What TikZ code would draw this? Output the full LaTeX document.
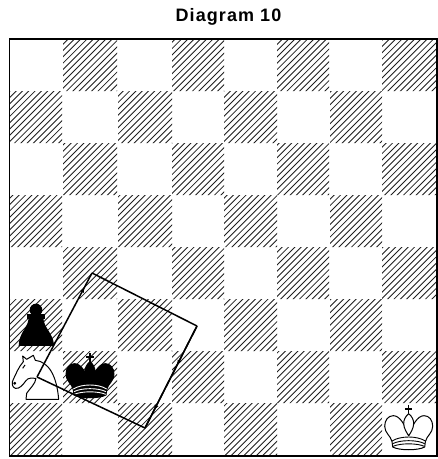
\documentclass[tikz,border=0pt]{standalone}
\usepackage{fontspec}
\setmainfont{Liberation Sans}
\usetikzlibrary{decorations.markings}
\tikzset{
  hatchline/.style={line width=0.85pt,draw=black!88},
  piece/.style={line width=1pt,line join=round,draw=black},
  bandline/.style={line width=0.9pt},
  tour/.style={line width=1.5pt,line join=round,draw=black},
  tip/.style={postaction={decorate},decoration={markings,mark=at position #1 with {\fill (2.2,0)--(-2.6,2)--(-2.6,-2)--cycle;}}},
  pics/chessking/.style n args={2}{code={
    \begin{scope}[x=0.3333pt,y=-0.3333pt]
      \draw[piece,line width=1.2pt] (0,0)--(0,28) (-11,12)--(11,12);
      \path[piece,fill=#1] (0,92) .. controls (-10,62) and (-26,32) .. (-46,32)
        .. controls (-62,32) and (-72,46) .. (-72,64)
        .. controls (-72,84) and (-54,92) .. (-50,110)
        -- (-48,126) .. controls (-28,137) and (28,137) .. (48,126)
        -- (50,110) .. controls (54,92) and (72,84) .. (72,64)
        .. controls (72,46) and (62,32) .. (46,32)
        .. controls (26,32) and (10,62) .. (0,92) -- cycle;
      \path[piece,fill=#1] (0,26) .. controls (-10,34) and (-15,45) .. (-15,55)
        .. controls (-15,70) and (-5,85) .. (0,92)
        .. controls (5,85) and (15,70) .. (15,55)
        .. controls (15,45) and (10,34) .. (0,26) -- cycle;
      \draw[bandline,draw=#2] (-50,108) .. controls (-25,92) and (25,92) .. (50,108);
      \draw[bandline,draw=#2] (-48,116) .. controls (-25,104) and (25,104) .. (48,116);
      \draw[bandline,draw=#2] (-47,124) .. controls (-25,114) and (25,114) .. (47,124);
    \end{scope}
  }}
}
\begin{document}
\begin{tikzpicture}[x=1pt,y=-1pt]
\useasboundingbox (0,0) rectangle (438,459);
\fill[white] (0,0) rectangle (438,459);
\node (title) at (228.5,16.5) {\fontsize{18pt}{20pt}\selectfont\bfseries\addfontfeature{LetterSpace=6}Diagram 10};
% dark squares
\begin{scope}
  \clip
    \foreach \ya/\yb in {39/91,143/195,247/299,351/403} {
      \foreach \xa/\xb in {63/117,172/224,277/329,382/437} { (\xa,\ya) rectangle (\xb,\yb) }
    }
    \foreach \ya/\yb in {91/143,195/247,299/351,403/456} {
      \foreach \xa/\xb in {10/62,118/172,224/277,330/382} { (\xa,\ya) rectangle (\xb,\yb) }
    };
  \foreach \c in {-440,-433.7,...,440} {
    \draw[hatchline] (\c,459) -- ++(459,-459);
  }
\end{scope}
% board frame
\draw[line width=1.2pt] (9.5,39) rectangle (437,456);
% black pawn
\begin{scope}[shift={(0,250)},x=0.3333pt,y=-0.3333pt]
  \fill (56,288) .. controls (56,268) and (64,252) .. (72,240)
    .. controls (78,230) and (86,218) .. (86,200)
    -- (130,200) .. controls (130,218) and (138,230) .. (144,240)
    .. controls (152,252) and (162,268) .. (162,288) -- cycle;
  \fill (108,180) circle [radius=19];
  \fill (82,192) rectangle (134,206);
\end{scope}
% white knight
\begin{scope}[shift={(0,250)},x=0.3333pt,y=-0.3333pt]
  \path[piece,fill=white] (68,318) -- (80,328) -- (100,316) -- (106,331)
    .. controls (145,335) and (170,375) .. (176,448)
    -- (78,448) -- (80,430)
    .. controls (90,415) and (106,402) .. (108,385)
    .. controls (95,385) and (85,382) .. (78,392)
    .. controls (68,405) and (58,418) .. (46,415)
    .. controls (36,412) and (34,398) .. (40,388)
    .. controls (48,372) and (55,352) .. (70,335) -- cycle;
  \draw[piece] (44,400) circle [radius=3];
  \draw[piece] (75,345) -- (68,355);
\end{scope}
% kings
\pic at (90,353) {chessking={black}{white}};
\pic at (408.7,405) {chessking={white}{black}};
% tour
\coordinate (tl) at (37,377);
\coordinate (tt) at (92,273);
\coordinate (tr) at (197,326);
\coordinate (tb) at (145,428);
\draw[tour,tip=0.84] (tl) -- (tt);
\draw[tour] (tt) -- (tr);
\draw[tour,tip=0.36] (tr) -- (tb);
\draw[tour,tip=0.8] (tr) -- (tb);
\draw[tour] (tb) -- (tl);
\end{tikzpicture}
\end{document}
